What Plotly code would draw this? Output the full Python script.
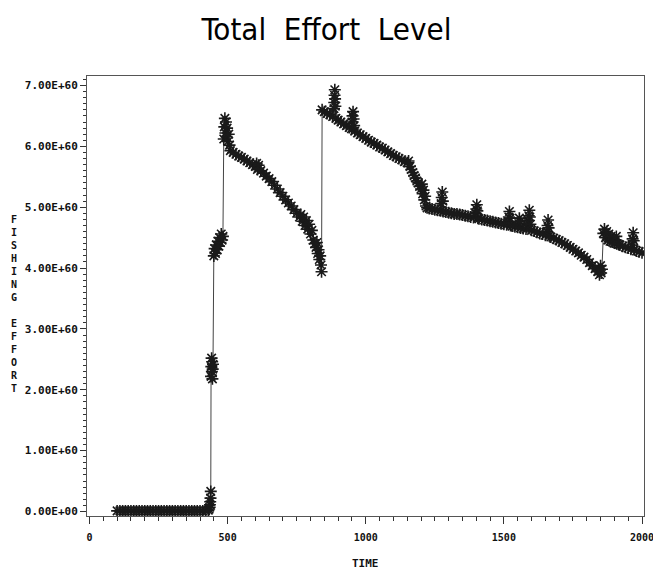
import plotly.graph_objects as go

TITLE = "Total\u00a0 Effort\u00a0 Level"
X_LABEL = "TIME"
Y_LABEL = "FISHING EFFORT"
X_TICKS = [0, 500, 1000, 1500, 2000]
Y_TICKS = [0, 1, 2, 3, 4, 5, 6, 7]
Y_TICK_TEXT = ["0.00E+00", "1.00E+60", "2.00E+60", "3.00E+60",
               "4.00E+60", "5.00E+60", "6.00E+60", "7.00E+60"]

# time steps and fishing effort (units of 1E+60)
time_a = [100, 110, 120, 130, 140, 150, 160, 170, 180, 190, 200, 210, 220, 230,
          240, 250, 260, 270, 280, 290, 300, 310, 320, 330, 340, 350, 360, 370,
          380, 390, 400, 410, 420, 430]
effort_a = [0.01, 0.01, 0.01, 0.01, 0.01, 0.01, 0.01, 0.01, 0.01, 0.01, 0.01, 0.01,
            0.01, 0.01, 0.01, 0.01, 0.01, 0.01, 0.01, 0.01, 0.01, 0.01, 0.01, 0.01,
            0.01, 0.01, 0.01, 0.01, 0.01, 0.01, 0.01, 0.01, 0.01, 0.02]

time_b = [433, 435, 436, 437, 438, 439, 440, 441, 442, 443, 444, 445, 446, 447,
          450, 453, 456, 459, 462, 465, 468, 471, 474, 477, 480, 483,
          486, 488, 490, 492, 494, 496, 498, 501, 504, 507]
effort_b = [0.04, 0.07, 0.11, 0.16, 0.22, 0.33, 2.22, 2.38, 2.52, 2.30, 2.46, 2.18, 2.34, 2.42,
            4.20, 4.32, 4.24, 4.38, 4.30, 4.44, 4.36, 4.50, 4.42, 4.56, 4.46, 4.52,
            6.12, 6.32, 6.46, 6.22, 6.40, 6.16, 6.30, 6.08, 6.20, 6.02]

time_c = [510, 520, 530, 540, 550, 560, 570, 580, 590, 600, 605, 608, 610, 612, 620,
          630, 640, 650, 660, 670, 680, 690, 700, 710, 720, 730, 740, 750, 760, 765,
          770, 775, 780, 785, 790, 795, 800, 805, 810, 815, 820, 823, 826, 829, 832,
          835, 838, 840]
effort_c = [5.93, 5.90, 5.87, 5.84, 5.82, 5.79, 5.76, 5.73, 5.70, 5.67, 5.72, 5.62, 5.64, 5.69, 5.60,
            5.56, 5.51, 5.47, 5.42, 5.36, 5.30, 5.24, 5.18, 5.12, 5.07, 5.02, 4.96, 4.90, 4.84, 4.88,
            4.77, 4.84, 4.70, 4.78, 4.64, 4.72, 4.56, 4.62, 4.46, 4.40, 4.34, 4.42, 4.24, 4.30, 4.14,
            4.20, 4.05, 3.94]

time_d = [842, 850, 860, 870, 880, 885, 886, 887, 888, 889, 890, 892, 900, 910, 920,
          930, 940, 948, 950, 952, 954, 956, 958, 960, 970, 980, 990, 1000, 1010, 1020,
          1030, 1040, 1050, 1060, 1070, 1080, 1090, 1100, 1110, 1120, 1130, 1140, 1150,
          1155, 1160, 1165, 1170, 1175, 1180, 1185, 1190, 1195, 1200, 1203, 1206, 1209,
          1212, 1215, 1218]
effort_d = [6.60, 6.57, 6.54, 6.52, 6.49, 6.62, 6.72, 6.84, 6.93, 6.78, 6.66, 6.46, 6.43, 6.40, 6.37,
            6.34, 6.31, 6.29, 6.40, 6.50, 6.57, 6.45, 6.34, 6.25, 6.22, 6.19, 6.16, 6.13, 6.10, 6.07,
            6.05, 6.02, 5.99, 5.97, 5.94, 5.91, 5.88, 5.85, 5.83, 5.80, 5.78, 5.75, 5.73,
            5.76, 5.67, 5.62, 5.57, 5.52, 5.48, 5.43, 5.40, 5.34, 5.30, 5.38, 5.22, 5.28,
            5.12, 5.18, 5.02]

time_e = [1222, 1230, 1240, 1250, 1260, 1270, 1273, 1275, 1277, 1279, 1280, 1290, 1300,
          1310, 1320, 1330, 1340, 1350, 1360, 1370, 1380, 1390, 1398, 1400, 1402, 1404,
          1406, 1410, 1420, 1430, 1440, 1450, 1460, 1470, 1480, 1490, 1500, 1510, 1516,
          1518, 1520, 1522, 1524, 1530, 1540, 1550, 1554, 1556, 1558, 1560, 1570, 1580,
          1586, 1588, 1590, 1592, 1594, 1596, 1600, 1610, 1620, 1630, 1640, 1650, 1656,
          1658, 1660, 1662, 1664, 1670, 1680, 1690, 1700, 1710, 1720, 1730, 1740, 1750,
          1760, 1770, 1780, 1790, 1800, 1810, 1820, 1830, 1840, 1846, 1848, 1850, 1852, 1855]
effort_e = [4.99, 4.98, 4.97, 4.96, 4.95, 4.94, 5.06, 5.16, 5.25, 5.10, 4.93, 4.92, 4.91,
            4.90, 4.89, 4.89, 4.88, 4.87, 4.86, 4.85, 4.84, 4.83, 4.90, 4.97, 5.04, 4.94,
            4.82, 4.81, 4.80, 4.79, 4.78, 4.77, 4.76, 4.75, 4.74, 4.73, 4.72, 4.71, 4.76,
            4.84, 4.93, 4.82, 4.70, 4.69, 4.68, 4.67, 4.73, 4.82, 4.76, 4.66, 4.65, 4.64,
            4.70, 4.78, 4.86, 4.95, 4.84, 4.72, 4.62, 4.61, 4.59, 4.57, 4.56, 4.54, 4.60,
            4.70, 4.79, 4.66, 4.53, 4.51, 4.49, 4.47, 4.45, 4.42, 4.40, 4.37, 4.34, 4.31,
            4.28, 4.25, 4.21, 4.18, 4.14, 4.09, 4.04, 3.99, 3.94, 3.89, 3.97, 4.04, 3.92, 3.98]

time_f = [1860, 1864, 1868, 1872, 1876, 1880, 1884, 1888, 1892, 1896, 1900, 1905, 1907,
          1909, 1915, 1920, 1930, 1940, 1950, 1960, 1964, 1966, 1968, 1970, 1972, 1980,
          1990, 2000]
effort_f = [4.57, 4.64, 4.50, 4.60, 4.46, 4.56, 4.44, 4.52, 4.43, 4.47, 4.41, 4.46, 4.52,
            4.40, 4.39, 4.38, 4.36, 4.34, 4.33, 4.31, 4.38, 4.48, 4.58, 4.45, 4.30, 4.28,
            4.27, 4.25]

times = time_a + time_b + time_c + time_d + time_e + time_f
effort = effort_a + effort_b + effort_c + effort_d + effort_e + effort_f

Y_TICK_FONT = dict(family="DejaVu Sans Mono", size=11, color="#111111", weight=700)
X_TICK_FONT = dict(family="DejaVu Sans Mono", size=10, color="#111111", weight=700)

fig = go.Figure()
fig.add_trace(go.Scatter(
    x=times, y=effort, mode="lines+markers",
    line=dict(color="#444444", width=1),
    marker=dict(symbol="asterisk-open", size=10, color="#1a1a1a",
                line=dict(color="#1a1a1a", width=1.6)),
    showlegend=False,
))

fig.update_layout(
    width=653, height=573,
    margin=dict(l=87, r=9, t=76, b=57, autoexpand=False),
    paper_bgcolor="white", plot_bgcolor="white",
    title=dict(text=TITLE, x=0.5, xref="container", xanchor="center",
               y=1 - 29 / 573, yref="container", yanchor="middle",
               font=dict(family="DejaVu Sans Condensed, Liberation Sans Narrow",
                         size=31, color="#000000")),
    xaxis=dict(range=[-9.05, 2007.2], tickvals=X_TICKS, ticktext=[str(v) for v in X_TICKS],
               ticks="outside", ticklen=7, tickwidth=1, tickcolor="#333333",
               showline=True, linecolor="#555555", linewidth=1, mirror=True,
               showgrid=False, zeroline=False, tickfont=X_TICK_FONT,
               ticklabeloverflow="allow", ticklabelstandoff=5, automargin=False,
               minor=dict(dtick=50, tick0=0, ticks="outside", ticklen=4,
                          tickcolor="#333333", showgrid=False)),
    yaxis=dict(range=[-0.074, 7.156], tickvals=Y_TICKS, ticktext=Y_TICK_TEXT,
               ticks="outside", ticklen=6, tickwidth=1, tickcolor="#333333",
               showline=True, linecolor="#555555", linewidth=1, mirror=True,
               showgrid=False, zeroline=False, tickfont=Y_TICK_FONT, automargin=False,
               minor=dict(dtick=0.1, tick0=0, ticks="outside", ticklen=3,
                          tickcolor="#333333", showgrid=False)),
    annotations=[
        dict(text="<br>".join(list(Y_LABEL.replace(" ", "\u00a0"))),
             xref="paper", yref="paper", x=(14 - 87) / 557, y=1 - (303.5 - 76) / 440,
             xanchor="center", yanchor="middle", showarrow=False, align="center",
             font=dict(family="DejaVu Sans Mono", size=10, color="#111111", weight=700)),
        dict(text=X_LABEL, xref="paper", yref="paper", x=0.5, y=(516 - 563) / 440,
             xanchor="center", yanchor="middle", showarrow=False,
             font=dict(family="DejaVu Sans Mono", size=11, color="#111111", weight=700)),
    ],
)

fig.write_html("out.html")
